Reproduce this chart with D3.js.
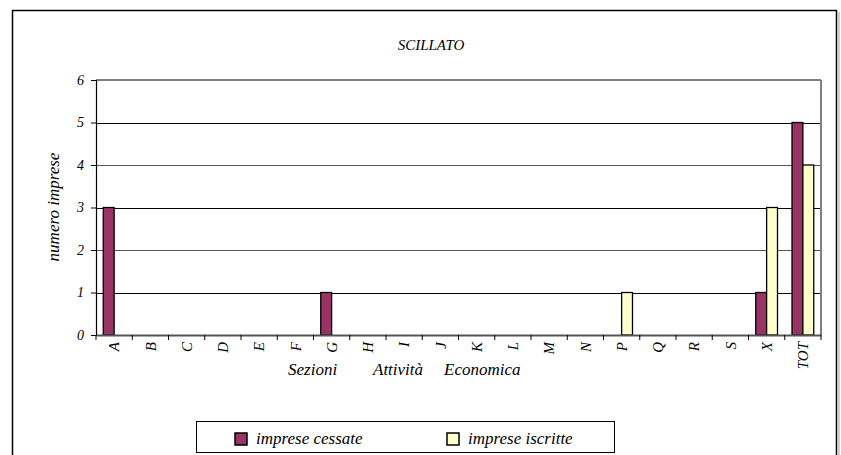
<!DOCTYPE html>
<html><head><meta charset="utf-8">
<script src="https://cdn.jsdelivr.net/npm/d3@7"></script>
<style>
body{margin:0;background:#fff;}
svg text{font-family:"Liberation Serif","Times New Roman",Times,"DejaVu Serif",serif !important;font-style:italic;fill:#000;}
</style></head>
<body><svg id="c" width="841" height="455"></svg>
<script>
const categories = ["A","B","C","D","E","F","G","H","I","J","K","L","M","N","P","Q","R","S","X","TOT"];
const cessate   = [3,0,0,0,0,0,1,0,0,0,0,0,0,0,0,0,0,0,1,5];
const iscritte  = [0,0,0,0,0,0,0,0,0,0,0,0,0,0,1,0,0,0,3,4];
const seriesNames = ["imprese cessate","imprese iscritte"];
const seriesColors = ["#993366","#FFFFCC"];
const yTicks = [0,1,2,3,4,5,6];
const title = "SCILLATO";
const yTitle = "numero imprese";
const xTitleWords = ["Sezioni","Attività","Economica"];

const svg = d3.select("#c");
const m = {l:96, r:821, t:80, b:335};

svg.append("rect").attr("x",12.5).attr("y",10.5).attr("width",824).attr("height",460)
  .attr("fill","#fff").attr("stroke","#000").attr("stroke-width",1.5);
svg.append("line").attr("x1",839).attr("x2",839).attr("y1",12).attr("y2",455).attr("stroke","#d0d0d0").attr("stroke-width",2);

const x = d3.scaleBand().domain(categories).range([m.l,m.r]).padding(0);
const y = d3.scaleLinear().domain([0,6]).range([m.b,m.t]);
const bw = x.bandwidth()*0.3;

svg.append("g").selectAll("line").data(yTicks.filter(d=>d>0&&d<6)).join("line")
  .attr("x1",m.l).attr("x2",m.r).attr("y1",d=>Math.round(y(d))+0.5).attr("y2",d=>Math.round(y(d))+0.5)
  .attr("stroke",(d)=>d%2?"#000":"#555").attr("stroke-width",1);
svg.append("line").attr("x1",m.l).attr("x2",m.r).attr("y1",m.t).attr("y2",m.t).attr("stroke","#808080").attr("stroke-width",2);
svg.append("line").attr("x1",m.r).attr("x2",m.r).attr("y1",m.t).attr("y2",m.b).attr("stroke","#808080").attr("stroke-width",2);

const data = categories.map((c,i)=>({c, v:[cessate[i],iscritte[i]]}));
const g = svg.append("g");
data.forEach(d=>{
  d.v.forEach((v,s)=>{
    if(v<=0) return;
    const cx = x(d.c)+x.bandwidth()/2;
    g.append("rect")
      .attr("x", cx - bw + s*bw).attr("y", y(v)).attr("width", bw).attr("height", y(0)-y(v))
      .attr("fill", seriesColors[s]).attr("stroke","#000").attr("stroke-width",1.3);
  });
});

const ya = svg.append("g").attr("transform",`translate(${m.l},0)`)
  .call(d3.axisLeft(y).tickValues(yTicks).tickSize(5).tickFormat(d3.format("d")));
ya.attr("font-family",null);
ya.select(".domain").attr("stroke","#000").attr("stroke-width",1.2);
ya.selectAll(".tick line").attr("stroke","#000");
ya.selectAll(".tick text").attr("x",-12).attr("font-size",14);

const xa = svg.append("g").attr("transform",`translate(0,${m.b})`)
  .call(d3.axisBottom(x).tickSize(0).tickFormat(d=>d));
xa.attr("font-family",null);
xa.select(".domain").attr("stroke","#555").attr("stroke-width",2);
xa.selectAll(".tick text").attr("transform","rotate(-90)").attr("text-anchor","end")
  .attr("x",-7).attr("y",0).attr("dy","0.35em").attr("font-size",15);
svg.append("g").selectAll("line").data(categories.concat(["_end"])).join("line")
  .attr("x1",(d,i)=>m.l+i*x.bandwidth()).attr("x2",(d,i)=>m.l+i*x.bandwidth())
  .attr("y1",m.b).attr("y2",m.b+5).attr("stroke","#000");

svg.append("text").attr("x",431).attr("y",50).attr("text-anchor","middle").attr("font-size",15).text(title);
svg.append("text").attr("transform","translate(59,207) rotate(-90)").attr("text-anchor","middle").attr("font-size",17).text(yTitle);
const xtPos = [288,373,444];
xTitleWords.forEach((w,i)=>svg.append("text").attr("x",xtPos[i]).attr("y",375).attr("font-size",17).text(w));

svg.append("rect").attr("x",196.5).attr("y",421.5).attr("width",418).attr("height",31).attr("fill","#fff").attr("stroke","#000").attr("stroke-width",1);
const lx = [235,447];
seriesNames.forEach((n,i)=>{
  svg.append("rect").attr("x",lx[i]).attr("y",433).attr("width",12).attr("height",12)
    .attr("fill",seriesColors[i]).attr("stroke","#000").attr("stroke-width",1.5);
  svg.append("text").attr("x",lx[i]+21).attr("y",444).attr("font-size",17).text(n);
});
</script></body></html>
